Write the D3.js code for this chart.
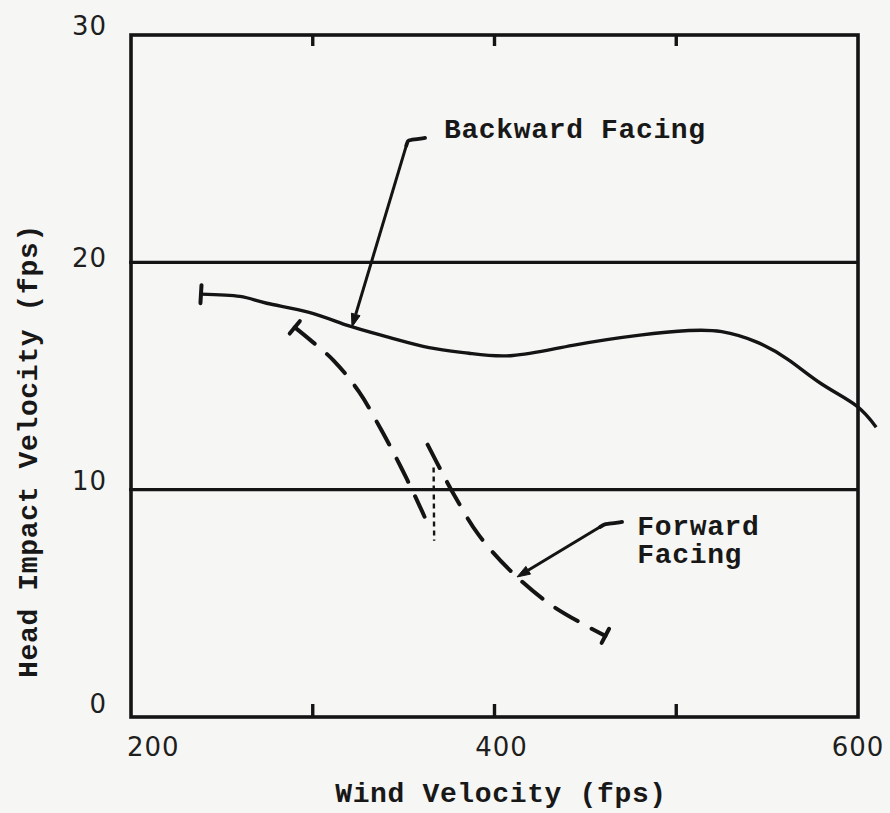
<!DOCTYPE html>
<html>
<head>
<meta charset="utf-8">
<script src="https://cdn.jsdelivr.net/npm/d3@7"></script>
<style>
  html, body { margin: 0; padding: 0; background: #f6f6f4; }
  svg { display: block; }
  .type { font-family: "Liberation Mono", "DejaVu Sans Mono", monospace; font-weight: bold; fill: #181818; }
  .num { font-family: "DejaVu Sans", sans-serif; fill: #1e1e1e; }
</style>
</head>
<body>
<svg id="chart" width="890" height="813"></svg>
<script>
// Axis set-up
const xDomain = [200, 600];
const yDomain = [0, 30];
const xTickLabels = [200, 400, 600];
const yTickLabels = [0, 10, 20, 30];
const xMinorTicks = [300, 400, 500];
const yGridValues = [10, 20];

// Backward facing occupant (solid curve)
const backwardX = [238.5, 259.9, 274.7, 298, 320, 342, 364, 386, 410, 443, 480, 507, 525, 544, 562, 580, 599, 610];
const backwardY = [18.6, 18.5, 18.2, 17.8, 17.2, 16.7, 16.25, 16.0, 15.9, 16.35, 16.8, 17.0, 16.95, 16.5, 15.7, 14.65, 13.7, 12.75];

// Forward facing occupant (dashed, two branches)
const forwardUpperX = [290.1, 298.4, 311.5, 325.3, 337.9, 348.9, 358.2, 361.5];
const forwardUpperY = [17.14, 16.6, 15.68, 14.32, 12.6, 10.93, 9.39, 8.81];
const forwardLowerX = [363.2, 370.9, 378.6, 391.2, 408.8, 430.2, 450.5, 461];
const forwardLowerY = [11.98, 10.79, 9.65, 8.02, 6.43, 4.98, 4.01, 3.57];

// Short dotted connector between the branches
const breakX = [366.5, 366.8];
const breakY = [10.97, 7.75];

// Labels with leader arrows: text position (data units), leader [start, elbow, tip]
const backwardLabel = { lines: ["Backward Facing"], at: [372.2, 25.47], leader: [[361.8, 25.47], [352.4, 25.38], [321.6, 17.16]] };
const forwardLabel = { lines: ["Forward", "Facing"], at: [478.6, 8.0], leader: [[470.2, 8.58], [460.8, 8.49], [412.4, 6.16]] };

const xTitle = "Wind Velocity (fps)";
const yTitle = "Head Impact Velocity (fps)";

const ink = "#141414";
const svg = d3.select("#chart");

const x = d3.scaleLinear().domain(xDomain).range([131, 858]);
const y = d3.scaleLinear().domain(yDomain).range([717, 35]);

const g = svg.append("g");

// Typewriter-style text
const TSIZE = 28, TSPACE = 0.65;
function typed(parent, str, px, py, anchor) {
  return parent.append("text")
    .attr("class", "type")
    .attr("x", px).attr("y", py)
    .attr("text-anchor", anchor || "start")
    .attr("font-size", TSIZE)
    .attr("letter-spacing", TSPACE)
    .text(str);
}

// Horizontal reference lines
g.selectAll("line.grid").data(yGridValues).join("line")
  .attr("class", "grid")
  .attr("x1", x(xDomain[0]) - 2).attr("x2", x(xDomain[1]))
  .attr("y1", d => y(d)).attr("y2", d => y(d))
  .attr("stroke", ink).attr("stroke-width", 3.2);

// Frame
g.append("rect")
  .attr("x", x(xDomain[0])).attr("y", y(yDomain[1]))
  .attr("width", x(xDomain[1]) - x(xDomain[0]))
  .attr("height", y(yDomain[0]) - y(yDomain[1]))
  .attr("fill", "none").attr("stroke", ink).attr("stroke-width", 3.6);

// Inward tick marks on top and bottom edges
g.selectAll("line.tb").data(xMinorTicks).join("line")
  .attr("class", "tb")
  .attr("x1", d => x(d)).attr("x2", d => x(d))
  .attr("y1", y(yDomain[0])).attr("y2", y(yDomain[0]) - 13)
  .attr("stroke", ink).attr("stroke-width", 3.4);
g.selectAll("line.tt").data(xMinorTicks).join("line")
  .attr("class", "tt")
  .attr("x1", d => x(d)).attr("x2", d => x(d))
  .attr("y1", y(yDomain[1])).attr("y2", y(yDomain[1]) + 11)
  .attr("stroke", ink).attr("stroke-width", 3.4);

// Tick labels
g.selectAll("text.yl").data(yTickLabels).join("text")
  .attr("class", "num yl")
  .attr("x", 107).attr("y", d => y(d) + (d === 0 ? -4 : (d === 20 ? 5 : 0)))
  .attr("text-anchor", "end")
  .attr("font-size", 26).attr("letter-spacing", 1)
  .text(d => d);
g.selectAll("text.xl").data(xTickLabels).join("text")
  .attr("class", "num xl")
  .attr("x", (d, i) => i === 0 ? x(d) - 4 : x(d) + (i === 1 ? 7 : 0))
  .attr("y", 756)
  .attr("text-anchor", (d, i) => i === 0 ? "start" : "middle")
  .attr("font-size", 26).attr("letter-spacing", 1)
  .text(d => d);

// Axis titles
typed(g, xTitle, 501, 802, "middle");
const yt = g.append("g").attr("transform", "translate(37,451) rotate(-90)");
typed(yt, yTitle, 0, 0, "middle");

// Curves
const zip = (xs, ys) => xs.map((v, i) => [v, ys[i]]);
const smooth = d3.line().x(d => x(d[0])).y(d => y(d[1])).curve(d3.curveNatural);
const dashed = d3.line().x(d => x(d[0])).y(d => y(d[1])).curve(d3.curveCatmullRom.alpha(0.5));

const backward = zip(backwardX, backwardY);
const fUpper = zip(forwardUpperX, forwardUpperY);
const fLower = zip(forwardLowerX, forwardLowerY);
const brk = zip(breakX, breakY);

g.append("path").attr("d", smooth(backward))
  .attr("fill", "none").attr("stroke", ink).attr("stroke-width", 3.4);

[fUpper, fLower].forEach(pts => {
  g.append("path").attr("d", dashed(pts))
    .attr("fill", "none").attr("stroke", ink).attr("stroke-width", 4)
    .attr("stroke-dasharray", "26,16").attr("stroke-linecap", "round");
});

g.append("path").attr("d", d3.line().x(d => x(d[0])).y(d => y(d[1]))(brk))
  .attr("fill", "none").attr("stroke", ink).attr("stroke-width", 2.4)
  .attr("stroke-dasharray", "5,4");

// End caps perpendicular to the curve
function cap(p, q, half) {
  const px = x(p[0]), py = y(p[1]), qx = x(q[0]), qy = y(q[1]);
  const dx = qx - px, dy = qy - py, len = Math.hypot(dx, dy);
  const nx = -dy / len, ny = dx / len;
  g.append("line")
    .attr("x1", px - nx * half).attr("y1", py - ny * half)
    .attr("x2", px + nx * half).attr("y2", py + ny * half)
    .attr("stroke", ink).attr("stroke-width", 4).attr("stroke-linecap", "round");
}
cap(backward[0], backward[1], 9);
cap(fUpper[0], fUpper[1], 8);
cap(fLower[fLower.length - 1], fLower[fLower.length - 2], 8);

// Labels with leader arrows
function label(lbl) {
  lbl.lines.forEach((s, i) => typed(g, s, x(lbl.at[0]), y(lbl.at[1]) + i * 28));
  const pts = lbl.leader.map(d => [x(d[0]), y(d[1])]);
  const tip = pts[2], from = pts[1];
  const dx = tip[0] - from[0], dy = tip[1] - from[1], len = Math.hypot(dx, dy);
  const ux = dx / len, uy = dy / len;
  const headLen = 13, headW = 4.5;
  const base = [tip[0] - ux * headLen, tip[1] - uy * headLen];
  g.append("path")
    .attr("d", d3.line().curve(d3.curveBasis)([pts[0], [pts[1][0] + 2, pts[1][1]], pts[1], [pts[1][0] + ux * 6, pts[1][1] + uy * 6]]))
    .attr("fill", "none").attr("stroke", ink).attr("stroke-width", 3.8).attr("stroke-linecap", "round");
  g.append("line")
    .attr("x1", pts[1][0] + ux * 4).attr("y1", pts[1][1] + uy * 4)
    .attr("x2", base[0]).attr("y2", base[1])
    .attr("stroke", ink).attr("stroke-width", 3);
  g.append("path")
    .attr("d", d3.line()([
      tip,
      [base[0] - uy * headW, base[1] + ux * headW],
      [base[0] + uy * headW, base[1] - ux * headW]
    ]) + "Z")
    .attr("fill", ink).attr("stroke", ink).attr("stroke-width", 1);
}
label(backwardLabel);
label(forwardLabel);
</script>
</body>
</html>
